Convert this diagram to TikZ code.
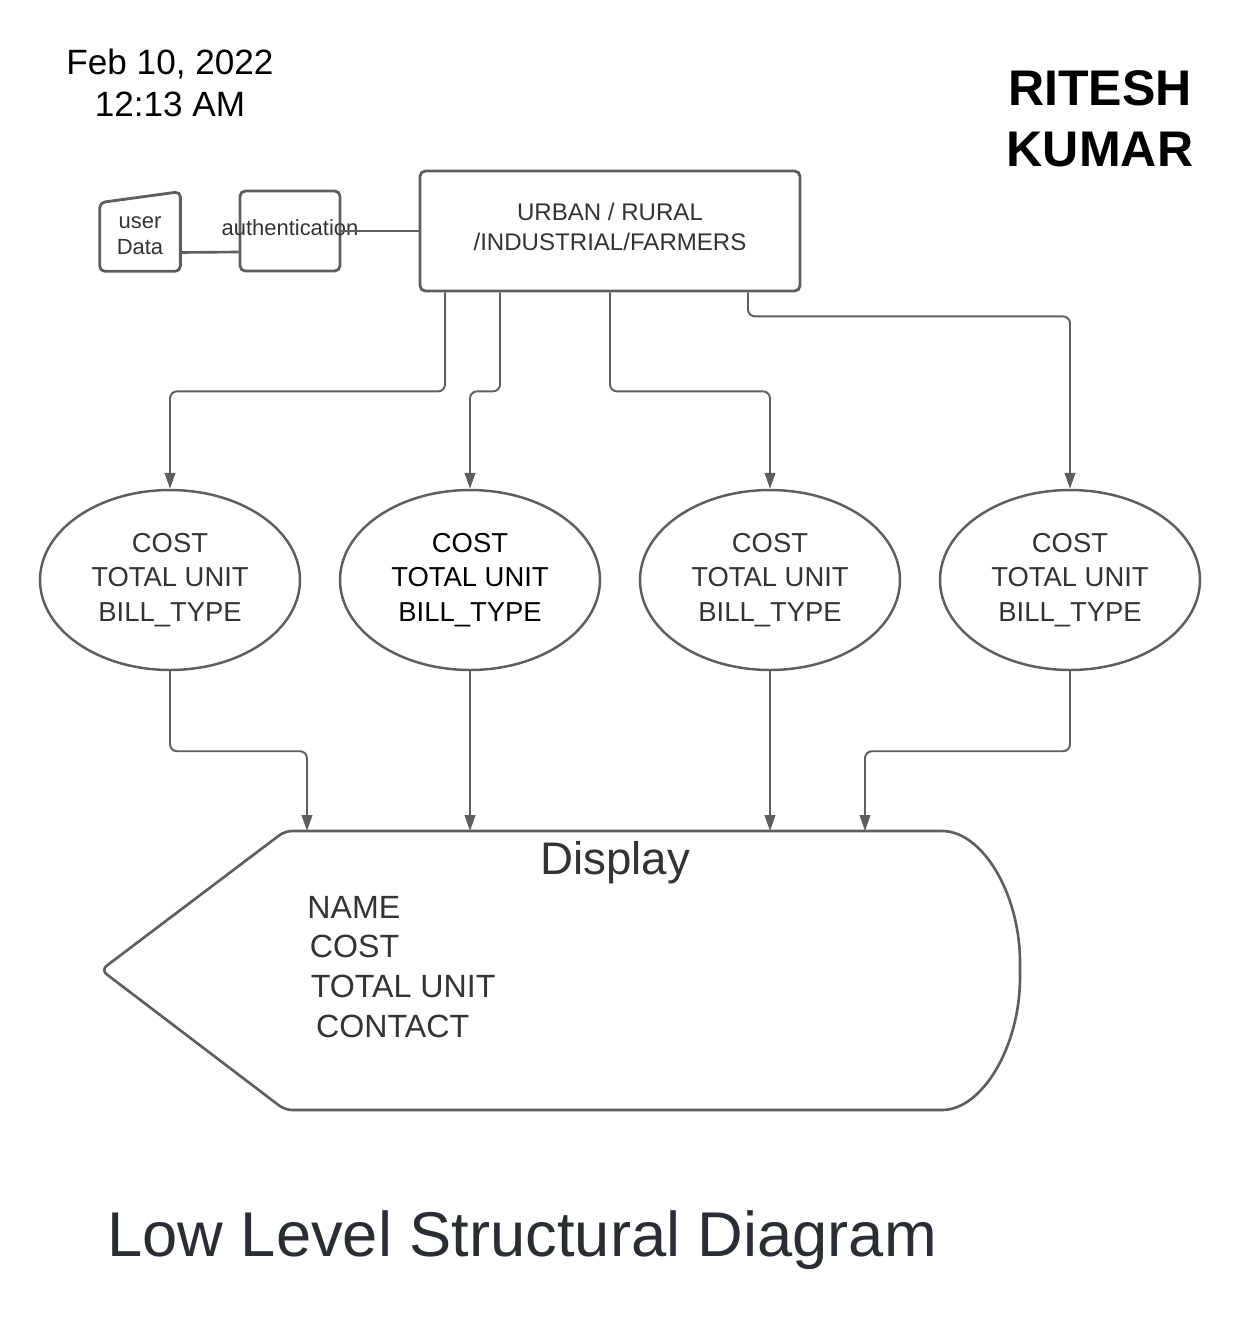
\documentclass[tikz,border=0pt]{standalone}
\usepackage{fontspec}
\setmainfont{Liberation Sans}
\usetikzlibrary{arrows.meta,shapes.geometric}

\definecolor{linegray}{HTML}{5E5E5E}
\definecolor{inkgray}{HTML}{333333}
\definecolor{titlegray}{HTML}{2A2D33}

\begin{document}
\begin{tikzpicture}[x=0.02cm, y=-0.02cm,
    >={Triangle[width=6pt,length=9pt]},
    box/.style={draw=linegray, line width=1.6pt, rounded corners=3pt,
      inner sep=0pt, align=center, text=inkgray},
    cloud/.style={ellipse, draw=linegray, line width=1.4pt,
      minimum width=5.2cm, minimum height=3.6cm, inner sep=0pt, align=center,
      text=inkgray, font=\fontsize{15.6}{19.6}\selectfont},
    link/.style={draw=linegray, line width=1.5pt},
    flow/.style={draw=linegray, line width=1.1pt, rounded corners=4pt, ->}]

  % Kader van de tekening
  \useasboundingbox (0,0) rectangle (1260,1331);

  % Datum en naam
  \node[align=center, inner sep=0pt, font=\fontsize{20}{23.8}\selectfont]
    (date) at (170,83) {Feb 10, 2022\\12:13 AM};
  \node[align=center, inner sep=0pt, font=\bfseries\fontsize{28.5}{34.6}\selectfont]
    (author) at (1100,118.5) {RITESH\\KUMAR};

  % Invoer en authenticatie
  \node[minimum width=1.6cm, minimum height=1.58cm, inner sep=0pt, align=center,
    text=inkgray, font=\fontsize{12.5}{14.7}\selectfont]
    (udata) at (140,231.5) {};
  \node[align=center, inner sep=0pt, text=inkgray,
    font=\fontsize{12.5}{14.7}\selectfont] (udatatxt) at (140,236) {user\\Data};
  \draw[draw=linegray, line width=1.6pt, rounded corners=3pt]
    (udata.south west) -- (udata.south east) -- (udata.north east)
    -- ([yshift=-0.22cm]udata.north west) -- cycle;
  \node[box, minimum width=2cm, minimum height=1.6cm] (auth) at (290,231) {};
  \node[inner sep=0pt, text=inkgray, font=\fontsize{12.5}{14.7}\selectfont]
    (authtxt) at (290,228) {authentication};

  % Soort gebruiker
  \node[box, minimum width=7.6cm, minimum height=2.4cm, text depth=0.16cm,
    font=\fontsize{13.7}{17}\selectfont] (zone) at (610,231)
    {URBAN / RURAL\\/INDUSTRIAL/FARMERS};

  \draw[link] ([yshift=-0.42cm]udata.east) -- ([yshift=-0.42cm]auth.west);
  \draw[link] (auth.east) -- (zone.west);

  % Gegevens per soort
  \node[cloud] (e1) at (170,580) {COST\\TOTAL UNIT\\BILL\_TYPE};
  \node[cloud, text=black] (e2) at (470,580) {COST\\TOTAL UNIT\\BILL\_TYPE};
  \node[cloud] (e3) at (770,580) {COST\\TOTAL UNIT\\BILL\_TYPE};
  \node[cloud] (e4) at (1070,580) {COST\\TOTAL UNIT\\BILL\_TYPE};

  \draw[flow] ([xshift=-3.3cm]zone.south) -- ++(0,99) -| (e1.north);
  \draw[flow] ([xshift=-2.2cm]zone.south) -- ++(0,99) -| (e2.north);
  \draw[flow] (zone.south) -- ++(0,99) -| (e3.north);
  \draw[flow] ([xshift=2.76cm]zone.south) -- ++(0,24) -| (e4.north);

  % Weergave
  \draw[draw=linegray, line width=1.5pt, rounded corners=4pt]
    (285,831) -- (935,831)
    .. controls (982,831) and (1020,893) .. (1020,970)
    .. controls (1020,1047) and (982,1110) .. (935,1110)
    -- (285,1110) -- (101,970) -- cycle;
  \coordinate (d1) at (307,831);
  \coordinate (d2) at (470,831);
  \coordinate (d3) at (770,831);
  \coordinate (d4) at (865,831);

  \node[anchor=base, inner sep=0pt, text=inkgray,
    font=\fontsize{26}{30}\selectfont] (disp) at (615,874.5) {Display};
  \node[anchor=west, align=left, inner sep=0pt, text=inkgray,
    font=\fontsize{18.3}{22.7}\selectfont] (fields) at (307,967)
    {NAME\\\hspace*{1.5pt}COST\\\hspace*{2pt}TOTAL UNIT\\\hspace*{5pt}CONTACT};

  \draw[flow] (e1.south) -- ++(0,80) -| (d1);
  \draw[flow] (e2.south) -- (d2);
  \draw[flow] (e3.south) -- (d3);
  \draw[flow] (e4.south) -- ++(0,80) -| (d4);

  % Titel
  \node[anchor=base west, inner sep=0pt, text=titlegray,
    font=\fontsize{36}{40}\selectfont] (title) at (107,1256)
    {Low Level Structural Diagram};

\end{tikzpicture}
\end{document}
